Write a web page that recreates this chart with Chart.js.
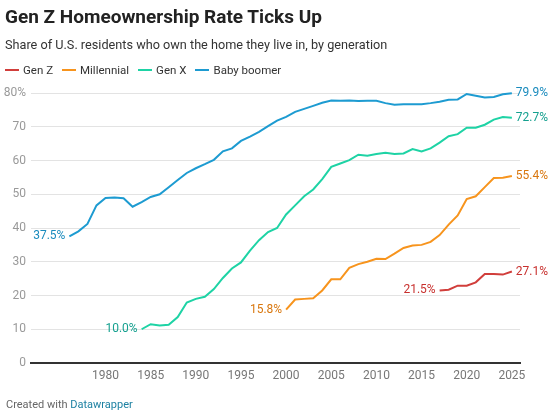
<!DOCTYPE html>
<html><head><meta charset="utf-8">
<script src="https://cdn.jsdelivr.net/npm/chart.js@4"></script>
<style>
body{margin:0;background:#fff;font-family:Roboto,sans-serif;}
#wrap{position:relative;width:550px;height:419px;}
#c{position:absolute;left:0;top:0;}
.t{position:absolute;left:5px;top:5px;font-size:19px;font-weight:bold;color:#222;}
.s{position:absolute;left:5px;top:37px;font-size:12.7px;color:#333;}
.lg{position:absolute;left:5px;top:63px;font-size:11.5px;color:#333;display:flex;gap:9px;}
.lg span{display:flex;align-items:center;}
.lg i{display:inline-block;width:14px;height:2px;margin-right:4px;}
.f{position:absolute;left:6px;top:398px;font-size:11px;color:#666;}
.f b{font-weight:normal;color:#1d81a2;}
</style></head><body>
<div id="wrap">
<canvas id="c" width="550" height="419"></canvas>
<div class="t">Gen Z Homeownership Rate Ticks Up</div>
<div class="s">Share of U.S. residents who own the home they live in, by generation</div>
<div class="lg"><span><i style="background:#d13e3b"></i>Gen Z</span><span><i style="background:#f7941d"></i>Millennial</span><span><i style="background:#1ed3a5"></i>Gen X</span><span><i style="background:#1d9bd1"></i>Baby boomer</span></div>
<div class="f">Created with <b>Datawrapper</b></div>
</div>
<script>
const boomerYears=[1976,1977,1978,1979,1980,1981,1982,1983,1984,1985,1986,1987,1988,1989,1990,1991,1992,1993,1994,1995,1996,1997,1998,1999,2000,2001,2002,2003,2004,2005,2006,2007,2008,2009,2010,2011,2012,2013,2014,2015,2016,2017,2018,2019,2020,2021,2022,2023,2024,2025];
const boomer=[37.5,39.0,41.2,46.7,48.9,49.0,48.8,46.3,47.7,49.2,50.0,52.1,54.2,56.3,57.7,58.9,60.2,62.7,63.6,65.8,67.1,68.5,70.2,71.8,72.9,74.4,75.3,76.2,77.1,77.8,77.7,77.8,77.6,77.7,77.7,77.0,76.5,76.7,76.7,76.7,77.0,77.4,78.0,78.1,79.7,79.2,78.7,78.8,79.6,79.9];
const genXYears=[1984,1985,1986,1987,1988,1989,1990,1991,1992,1993,1994,1995,1996,1997,1998,1999,2000,2001,2002,2003,2004,2005,2006,2007,2008,2009,2010,2011,2012,2013,2014,2015,2016,2017,2018,2019,2020,2021,2022,2023,2024,2025];
const genX=[10.0,11.5,11.1,11.3,13.6,17.9,19.0,19.6,21.9,25.2,28.0,29.8,33.3,36.4,38.8,40.0,44.0,46.7,49.4,51.4,54.5,58.1,59.1,60.1,61.7,61.4,61.9,62.3,61.9,62.1,63.4,62.7,63.6,65.3,67.2,67.8,69.7,69.7,70.6,72.1,72.9,72.7];
const millYears=[2000,2001,2002,2003,2004,2005,2006,2007,2008,2009,2010,2011,2012,2013,2014,2015,2016,2017,2018,2019,2020,2021,2022,2023,2024,2025];
const mill=[15.8,18.8,19.0,19.2,21.5,24.8,24.8,28.2,29.3,30.0,30.9,30.8,32.4,34.1,34.8,35.0,35.9,37.9,41.0,43.7,48.6,49.4,52.1,54.8,54.9,55.4];
const genZYears=[2017,2018,2019,2020,2021,2022,2023,2024,2025];
const genZ=[21.5,21.7,22.9,22.9,23.9,26.4,26.4,26.2,27.1];
const xTicks=[1980,1985,1990,1995,2000,2005,2010,2015,2020,2025];
const yTicks=[0,10,20,30,40,50,60,70,80];

const pts=(xs,ys)=>xs.map((x,i)=>({x,y:ys[i]}));
const series=[
 {label:'Gen Z',data:pts(genZYears,genZ),c:'#d13e3b',tc:'#c8302e'},
 {label:'Millennial',data:pts(millYears,mill),c:'#f7941d',tc:'#d9770e'},
 {label:'Gen X',data:pts(genXYears,genX),c:'#1ed3a5',tc:'#15a08f'},
 {label:'Baby boomer',data:pts(boomerYears,boomer),c:'#1d9bd1',tc:'#1a8bbd'}
];
const endLabels={id:'endLabels',afterDatasetsDraw(ch){
 const ctx=ch.ctx,xs=ch.scales.x,ys=ch.scales.y;
 ctx.save();ctx.font='12px Roboto';ctx.textBaseline='middle';
 series.forEach(s=>{
  const a=s.data[0],b=s.data[s.data.length-1];
  ctx.fillStyle=s.tc;
  ctx.textAlign='right';ctx.fillText(a.y.toFixed(1)+'%',xs.getPixelForValue(a.x)-4,ys.getPixelForValue(a.y));
  ctx.textAlign='left';ctx.fillText(b.y.toFixed(1)+'%',xs.getPixelForValue(b.x)+4,ys.getPixelForValue(b.y));
 });
 ctx.restore();}};
new Chart(document.getElementById('c'),{
 type:'line',
 data:{datasets:series.map(s=>({label:s.label,data:s.data,borderColor:s.c,borderWidth:2,pointRadius:0,tension:0,clip:false}))},
 options:{responsive:false,animation:false,
  layout:{padding:{top:93,bottom:26,right:30,left:0}},
  plugins:{legend:{display:false},tooltip:{enabled:false}},
  scales:{
   x:{type:'linear',min:1971.75,max:2025.9,afterBuildTicks:s=>{s.ticks=xTicks.map(v=>({value:v}));},
      afterFit:s=>{s.height=30;},
      grid:{display:false,drawTicks:false},border:{display:true,color:'#333',width:2},
      ticks:{color:'#777',font:{family:'Roboto',size:12},padding:6,callback:v=>String(v),maxRotation:0,autoSkip:false}},
   y:{min:0,max:80,afterBuildTicks:s=>{s.ticks=yTicks.map(v=>({value:v}));},
      afterFit:s=>{s.width=31;},
      grid:{color:'#e3e3e3',drawTicks:false},border:{display:false},
      ticks:{color:'#999',font:{family:'Roboto',size:12},padding:5,callback:v=>v===80?'80%':String(v)}}
  }},
 plugins:[endLabels]});
</script></body></html>
